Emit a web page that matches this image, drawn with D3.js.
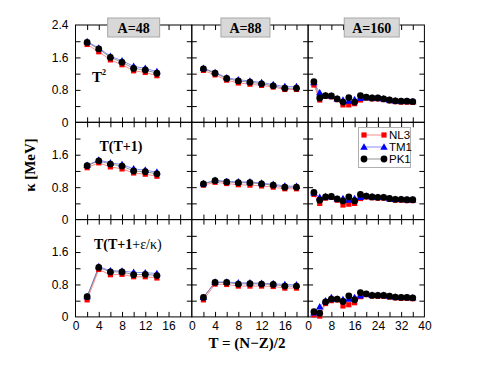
<!DOCTYPE html>
<html>
<head>
<meta charset="utf-8">
<script src="https://cdn.jsdelivr.net/npm/d3@7"></script>
<style>
body { margin: 0; background: #fff; }
.tick text { font: 12px "Liberation Sans", Arial, sans-serif; fill: #000; }
.lab { font-family: "Liberation Serif", "Times New Roman", serif; font-weight: bold; fill: #000; }
</style>
</head>
<body>
<div id="chart"></div>
<script>
// categories
const models = ["NL3", "TM1", "PK1"];
const nuclei = ["A=48", "A=88", "A=160"];

// T values per nucleus
const T_A48 = [2, 4, 6, 8, 10, 12, 14];
const T_A88 = [2, 4, 6, 8, 10, 12, 14, 16, 18];
const T_A160 = [2, 4, 6, 8, 10, 12, 14, 16, 18, 20, 22, 24, 26, 28, 30, 32, 34, 36];

// row 1 : T^2
const NL3_A48_r1 = [1.92, 1.74, 1.54, 1.42, 1.27, 1.23, 1.15];
const TM1_A48_r1 = [1.99, 1.83, 1.63, 1.52, 1.38, 1.33, 1.25];
const PK1_A48_r1 = [1.97, 1.81, 1.60, 1.48, 1.33, 1.29, 1.21];
const NL3_A88_r1 = [1.28, 1.17, 1.04, 0.97, 0.94, 0.91, 0.87, 0.81, 0.81];
const TM1_A88_r1 = [1.33, 1.23, 1.10, 1.05, 1.02, 0.98, 0.93, 0.88, 0.88];
const PK1_A88_r1 = [1.32, 1.21, 1.08, 1.02, 0.99, 0.95, 0.90, 0.84, 0.84];
const NL3_A160_r1 = [0.92, 0.55, 0.64, 0.63, 0.56, 0.43, 0.43, 0.46, 0.55, 0.60, 0.58, 0.58, 0.56, 0.53, 0.51, 0.50, 0.50, 0.49];
const TM1_A160_r1 = [0.98, 0.73, 0.66, 0.65, 0.58, 0.55, 0.52, 0.56, 0.59, 0.61, 0.60, 0.60, 0.58, 0.55, 0.53, 0.52, 0.52, 0.51];
const PK1_A160_r1 = [1.00, 0.60, 0.66, 0.65, 0.58, 0.50, 0.61, 0.50, 0.66, 0.62, 0.60, 0.60, 0.58, 0.55, 0.53, 0.52, 0.52, 0.51];

// row 2 : T(T+1)
const NL3_A48_r2 = [1.28, 1.40, 1.30, 1.25, 1.15, 1.12, 1.07];
const TM1_A48_r2 = [1.34, 1.47, 1.40, 1.36, 1.25, 1.22, 1.17];
const PK1_A48_r2 = [1.33, 1.45, 1.37, 1.32, 1.20, 1.18, 1.13];
const NL3_A88_r2 = [0.85, 0.92, 0.89, 0.86, 0.85, 0.83, 0.80, 0.76, 0.76];
const TM1_A88_r2 = [0.89, 0.97, 0.94, 0.93, 0.93, 0.90, 0.87, 0.83, 0.82];
const PK1_A88_r2 = [0.88, 0.96, 0.93, 0.91, 0.91, 0.88, 0.85, 0.80, 0.80];
const NL3_A160_r2 = [0.62, 0.40, 0.53, 0.55, 0.48, 0.36, 0.38, 0.40, 0.52, 0.56, 0.54, 0.53, 0.53, 0.50, 0.48, 0.48, 0.47, 0.47];
const TM1_A160_r2 = [0.66, 0.55, 0.57, 0.57, 0.51, 0.52, 0.48, 0.52, 0.55, 0.58, 0.56, 0.55, 0.55, 0.52, 0.50, 0.50, 0.49, 0.49];
const PK1_A160_r2 = [0.67, 0.48, 0.56, 0.57, 0.51, 0.46, 0.56, 0.46, 0.62, 0.58, 0.56, 0.55, 0.55, 0.52, 0.50, 0.50, 0.49, 0.49];

// row 3 : T(T+1+eps/kappa)
const NL3_A48_r3 = [0.42, 1.17, 1.04, 1.05, 0.99, 0.99, 0.96];
const TM1_A48_r3 = [0.50, 1.24, 1.14, 1.13, 1.10, 1.09, 1.07];
const PK1_A48_r3 = [0.50, 1.22, 1.11, 1.11, 1.04, 1.05, 1.02];
const NL3_A88_r3 = [0.42, 0.81, 0.80, 0.76, 0.76, 0.76, 0.75, 0.71, 0.71];
const TM1_A88_r3 = [0.48, 0.86, 0.86, 0.84, 0.84, 0.83, 0.82, 0.80, 0.79];
const PK1_A88_r3 = [0.48, 0.85, 0.85, 0.81, 0.82, 0.81, 0.80, 0.76, 0.76];
const NL3_A160_r3 = [0.05, 0.02, 0.33, 0.40, 0.42, 0.27, 0.30, 0.35, 0.50, 0.55, 0.52, 0.51, 0.51, 0.49, 0.47, 0.46, 0.46, 0.45];
const TM1_A160_r3 = [0.10, 0.25, 0.40, 0.48, 0.44, 0.43, 0.44, 0.48, 0.52, 0.56, 0.54, 0.53, 0.53, 0.51, 0.49, 0.48, 0.48, 0.47];
const PK1_A160_r3 = [0.13, 0.09, 0.37, 0.44, 0.44, 0.38, 0.52, 0.42, 0.60, 0.57, 0.53, 0.53, 0.53, 0.51, 0.49, 0.48, 0.48, 0.47];

// tick labels
const xTicksSmall = [0, 4, 8, 12, 16];
const xTicksBig = [0, 8, 16, 24, 32, 40];
const yTickLabels = [0, 0.8, 1.6];
const yTickLabelsTop = [0, 0.8, 1.6, 2.4];

// ---- layout ----
const W = 494, H = 382;
const colX = [75.5, 191.8, 308.1, 424.4];
const rowTop = 25, rowH = 97.3;
const tickLen = 5;

const svg = d3.select("#chart").append("svg")
  .attr("width", W).attr("height", H);

const Ts = [T_A48, T_A88, T_A160];
const xMax = [20, 20, 40];
const rows = [
  [[NL3_A48_r1, TM1_A48_r1, PK1_A48_r1], [NL3_A88_r1, TM1_A88_r1, PK1_A88_r1], [NL3_A160_r1, TM1_A160_r1, PK1_A160_r1]],
  [[NL3_A48_r2, TM1_A48_r2, PK1_A48_r2], [NL3_A88_r2, TM1_A88_r2, PK1_A88_r2], [NL3_A160_r2, TM1_A160_r2, PK1_A160_r2]],
  [[NL3_A48_r3, TM1_A48_r3, PK1_A48_r3], [NL3_A88_r3, TM1_A88_r3, PK1_A88_r3], [NL3_A160_r3, TM1_A160_r3, PK1_A160_r3]]
];

const lineCol = ["#ff7070", "#7070ff", "#777"];

function marker(g, i, x, y) {
  if (i == 0) {
    g.append("rect").attr("x", x - 2.6).attr("y", y - 2.6)
      .attr("width", 5.2).attr("height", 5.2).attr("fill", "#ff0000");
  } else if (i == 1) {
    g.append("path").attr("d", d3.symbol().type(d3.symbolTriangle).size(24)())
      .attr("transform", "translate(" + x + "," + (y + 0.5) + ")").attr("fill", "#0000ff");
  } else {
    g.append("circle").attr("cx", x).attr("cy", y).attr("r", 3.4).attr("fill", "#000");
  }
}

rows.forEach(function(row, r) {
  const y0 = rowTop + r * rowH, y1 = y0 + rowH;
  const y = d3.scaleLinear().domain([0, 2.4]).range([y1, y0]);

  row.forEach(function(series, c) {
    const x = d3.scaleLinear().domain([0, xMax[c]]).range([colX[c], colX[c + 1]]);
    const step = xMax[c] == 40 ? 4 : 2;
    const g = svg.append("g");

    // inward ticks on all four sides
    const xt = d3.range(step, xMax[c], step);
    const yt = d3.range(1, 6).map(d => d * 0.4);
    g.append("g").attr("transform", "translate(0," + y1 + ")")
      .call(d3.axisBottom(x).tickValues(xt).tickSize(-tickLen).tickFormat(""))
      .call(a => a.select(".domain").remove());
    g.append("g").attr("transform", "translate(0," + y0 + ")")
      .call(d3.axisTop(x).tickValues(xt).tickSize(-tickLen).tickFormat(""))
      .call(a => a.select(".domain").remove());
    g.append("g").attr("transform", "translate(" + colX[c] + ",0)")
      .call(d3.axisLeft(y).tickValues(yt).tickSize(-tickLen).tickFormat(""))
      .call(a => a.select(".domain").remove());
    g.append("g").attr("transform", "translate(" + colX[c + 1] + ",0)")
      .call(d3.axisRight(y).tickValues(yt).tickSize(-tickLen).tickFormat(""))
      .call(a => a.select(".domain").remove());
    g.selectAll(".tick line").attr("stroke", "#000").attr("stroke-width", 1);

    g.append("rect").attr("x", colX[c]).attr("y", y0)
      .attr("width", colX[c + 1] - colX[c]).attr("height", rowH)
      .attr("fill", "none").attr("stroke", "#000").attr("stroke-width", 1);

    // x labels on bottom row
    if (r == 2) {
      const lab = c == 2 ? xTicksBig : xTicksSmall;
      g.append("g").attr("transform", "translate(0," + y1 + ")")
        .call(d3.axisBottom(x).tickValues(lab).tickSize(0).tickPadding(5).tickFormat(d3.format("d")))
        .call(a => a.select(".domain").remove());
    }
    // y labels on first column
    if (c == 0) {
      g.append("g").attr("transform", "translate(" + colX[0] + ",0)")
        .call(d3.axisLeft(y).tickValues(r == 0 ? yTickLabelsTop : yTickLabels)
          .tickSize(0).tickPadding(7).tickFormat(d => d == 0 ? "0" : d3.format(".1f")(d)))
        .call(a => a.select(".domain").remove());
    }

    // series: lines first, then markers (NL3, TM1, PK1)
    const T = Ts[c];
    series.forEach(function(vals, i) {
      const line = d3.line().x((d, k) => x(T[k])).y(d => y(d));
      g.append("path").datum(vals).attr("d", line)
        .attr("fill", "none").attr("stroke", lineCol[i]).attr("stroke-width", 0.8);
    });
    series.forEach(function(vals, i) {
      vals.forEach((v, k) => marker(g, i, x(T[k]), y(v)));
    });
  });
});

// nucleus labels on top
const boxW = [52, 49, 55], boxShift = [0, -4.5, 5.5];
nuclei.forEach(function(n, c) {
  const cx = (colX[c] + colX[c + 1]) / 2 + boxShift[c];
  svg.append("rect").attr("x", cx - boxW[c] / 2).attr("y", 18)
    .attr("width", boxW[c]).attr("height", 19)
    .attr("fill", "#d8d8d8").attr("stroke", "#a8a8a8").attr("stroke-width", 1);
  svg.append("text").attr("class", "lab").attr("x", cx).attr("y", 32.5)
    .attr("text-anchor", "middle").attr("font-size", 14).text(n);
});

// row labels
const t1 = svg.append("text").attr("class", "lab").attr("x", 92).attr("y", 82).attr("font-size", 15);
t1.append("tspan").text("T");
t1.append("tspan").attr("dy", -7).attr("font-size", 8).text("2");
svg.append("text").attr("class", "lab").attr("x", 121).attr("y", 151)
  .attr("text-anchor", "middle").attr("font-size", 14).text("T(T+1)");
const t3 = svg.append("text").attr("class", "lab").attr("x", 94).attr("y", 249).attr("font-size", 14);
t3.append("tspan").text("T(T+1");
t3.append("tspan").attr("font-weight", "normal").attr("font-size", 14).text("+ε/κ)");

// legend
const lg = svg.append("g");
lg.append("rect").attr("x", 358.5).attr("y", 127.5).attr("width", 52).attr("height", 40)
  .attr("fill", "#fff").attr("stroke", "#b0b0b0").attr("stroke-width", 1);
models.forEach(function(m, i) {
  const ly = 135 + i * 12;
  lg.append("line").attr("x1", 364).attr("x2", 384).attr("y1", ly).attr("y2", ly)
    .attr("stroke", lineCol[i]).attr("stroke-width", 0.8);
  marker(lg, i, 364, ly);
  marker(lg, i, 384, ly);
  lg.append("text").attr("x", 389).attr("y", ly + 4)
    .style("font", "11.5px 'Liberation Sans', Arial, sans-serif").text(m);
});

// axis titles
svg.append("text").attr("class", "lab").attr("font-size", 15)
  .attr("transform", "translate(35,165) rotate(-90)")
  .attr("text-anchor", "middle").text("κ [MeV]");
svg.append("text").attr("class", "lab").attr("font-size", 15)
  .attr("x", 247).attr("y", 348).attr("text-anchor", "middle").text("T = (N−Z)/2");
</script>
</body>
</html>
